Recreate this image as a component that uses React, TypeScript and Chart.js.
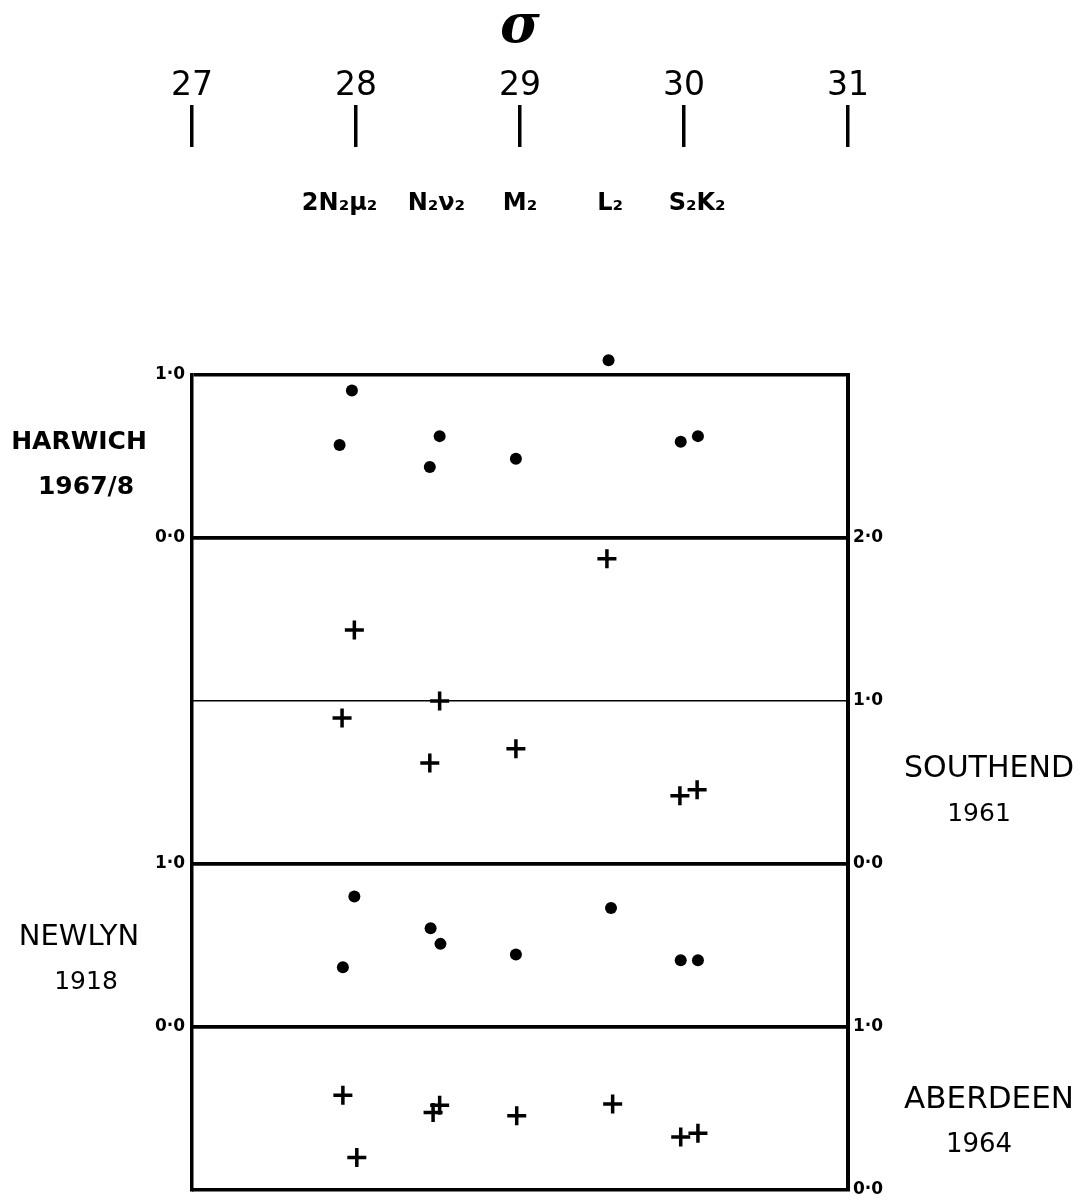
import React, { useEffect, useRef } from 'react';
import { Chart, registerables } from 'chart.js';

Chart.register(...registerables);

// ---- data ----
const sigmaTicks = [27, 28, 29, 30, 31];
const constituentLabels = ['2N₂μ₂', 'N₂ν₂', 'M₂', 'L₂', 'S₂K₂'];
const constituentSigma = [27.9, 28.49, 29.0, 29.55, 30.08];

const harwichSigma = [27.975, 27.9, 28.51, 28.45, 28.975, 29.54, 29.98, 30.085];
const harwichValues = [0.905, 0.57, 0.625, 0.436, 0.486, 1.09, 0.59, 0.625];

const southendSigma = [29.53, 27.99, 28.51, 27.915, 28.45, 28.975, 29.975, 30.08];
const southendValues = [1.872, 1.436, 1.0, 0.895, 0.62, 0.707, 0.418, 0.455];

const newlynSigma = [27.99, 27.92, 28.455, 28.515, 28.975, 29.555, 29.98, 30.085];
const newlynValues = [0.8, 0.366, 0.606, 0.51, 0.445, 0.73, 0.41, 0.41];

const aberdeenSigma = [27.92, 28.005, 28.47, 28.51, 28.98, 29.565, 29.98, 30.085];
const aberdeenValues = [0.582, 0.2, 0.476, 0.52, 0.456, 0.528, 0.325, 0.348];

// panels stacked on one combined vertical scale (bottom value of each panel)
const panelBase = { harwich: 4, southend: 2, newlyn: 1, aberdeen: 0 };
const panelTop = { harwich: 5, southend: 4, newlyn: 2, aberdeen: 1 };

const stations = [
  { name: 'HARWICH', year: '1967/8', side: 'left', at: 4.585, bold: true, size: 25, ysize: 25 },
  { name: 'SOUTHEND', year: '1961', side: 'right', at: 2.58, bold: false, size: 30, ysize: 25 },
  { name: 'NEWLYN', year: '1918', side: 'left', at: 1.55, bold: false, size: 29, ysize: 25 },
  { name: 'ABERDEEN', year: '1964', side: 'right', at: 0.55, bold: false, size: 31, ysize: 26 },
];

const fmt = (v: number) => v.toFixed(1).replace('.', '·');

const leftPanels = ['harwich', 'newlyn'] as const;
const rightPanels = ['southend', 'aberdeen'] as const;

function leftLabel(v: number): string {
  for (const p of leftPanels) {
    if (v >= panelBase[p] && v <= panelTop[p]) return fmt(v - panelBase[p]);
  }
  return '';
}
function rightLabel(v: number): string {
  for (const p of rightPanels) {
    if (v >= panelBase[p] && v <= panelTop[p]) return fmt(v - panelBase[p]);
  }
  return '';
}

const pts = (xs: number[], ys: number[], base: number) =>
  xs.map((x, i) => ({ x, y: ys[i] + base }));

// points lying outside the framed area (e.g. Harwich L2 > 1.0) are still drawn
const outsidePointsPlugin = {
  id: 'outsidePoints',
  afterDatasetsDraw(chart: any) {
    const { ctx, chartArea, width, height } = chart;
    const full = { left: 0, top: 0, right: width, bottom: height };
    chart.data.datasets.forEach((_d: any, i: number) => {
      const meta = chart.getDatasetMeta(i);
      meta.data.forEach((el: any) => {
        if (el.y < chartArea.top - 1 || el.y > chartArea.bottom + 1) el.draw(ctx, full);
      });
    });
  },
};

const stationPlugin = {
  id: 'stationLabels',
  afterDraw(chart: any) {
    const { ctx, chartArea } = chart;
    const y = chart.scales.yR;
    ctx.save();
    ctx.fillStyle = '#000';
    ctx.textAlign = 'center';
    ctx.textBaseline = 'middle';
    for (const s of stations) {
      const cx = s.side === 'left' ? chartArea.left - 113 : chartArea.right + 141;
      const py = y.getPixelForValue(s.at);
      ctx.font = `${s.bold ? 'bold ' : ''}${s.size}px "DejaVu Sans"`;
      ctx.fillText(s.name, cx, py);
      ctx.font = `${s.bold ? 'bold ' : ''}${s.ysize}px "DejaVu Sans"`;
      ctx.fillText(s.year, cx + (s.side === 'left' ? 7 : -10), py + 45);
    }
    ctx.restore();
  },
};

const noVerticalOverflow = (s: any) => {
  s.paddingTop = 0;
  s.paddingBottom = 0;
};

export default function App() {
  const ref = useRef<HTMLCanvasElement | null>(null);
  useEffect(() => {
    if (!ref.current) return;
    const dot = { pointStyle: 'circle', pointRadius: 6, backgroundColor: '#000', borderColor: '#000', borderWidth: 0 };
    const cross = { pointStyle: 'cross', pointRadius: 9.5, backgroundColor: '#000', borderColor: '#000', borderWidth: 3.5 };
    const chart = new Chart(ref.current, {
      type: 'scatter',
      data: {
        datasets: [
          { label: 'Harwich 1967/8', data: pts(harwichSigma, harwichValues, panelBase.harwich), ...dot, xAxisID: 'x', yAxisID: 'yR', clip: false } as any,
          { label: 'Southend 1961', data: pts(southendSigma, southendValues, panelBase.southend), ...cross, xAxisID: 'x', yAxisID: 'yR', clip: false } as any,
          { label: 'Newlyn 1918', data: pts(newlynSigma, newlynValues, panelBase.newlyn), ...dot, xAxisID: 'x', yAxisID: 'yR', clip: false } as any,
          { label: 'Aberdeen 1964', data: pts(aberdeenSigma, aberdeenValues, panelBase.aberdeen), ...cross, xAxisID: 'x', yAxisID: 'yR', clip: false } as any,
        ],
      },
      options: {
        animation: false,
        responsive: false,
        layout: { padding: { left: 0, right: 0, top: 0, bottom: 14 } },
        plugins: { legend: { display: false }, tooltip: { enabled: false } },
        scales: {
          x: {
            type: 'linear',
            position: 'top',
            min: 27,
            max: 31,
            weight: 2,
            afterBuildTicks: (s: any) => { s.ticks = sigmaTicks.map((v) => ({ value: v })); },
            afterFit: (s: any) => { s.height = 147; },
            grid: { display: true, drawOnChartArea: false, drawTicks: true, tickLength: 42, tickWidth: 3.5, tickColor: '#000', color: '#000', lineWidth: 3.5 },
            border: { display: false },
            ticks: {
              color: '#000',
              padding: 2,
              maxRotation: 0,
              autoSkip: false,
              font: { family: 'DejaVu Sans', size: 33, lineHeight: 1 },
              callback: (v: any) => String(v),
            },
            title: {
              display: true,
              text: 'σ',
              color: '#000',
              font: { family: 'DejaVu Serif', size: 54, style: 'italic', weight: 'bold', lineHeight: 1 },
              padding: { top: 1, bottom: 0 },
            },
          },
          xc: {
            type: 'linear',
            position: 'top',
            min: 27,
            max: 31,
            weight: 1,
            afterBuildTicks: (s: any) => { s.ticks = constituentSigma.map((v) => ({ value: v })); },
            afterFit: (s: any) => { s.height = 228; },
            grid: { display: false },
            border: { display: false },
            ticks: {
              color: '#000',
              padding: 151,
              maxRotation: 0,
              autoSkip: false,
              font: { family: 'DejaVu Sans', size: 24, weight: 'bold', lineHeight: 1 },
              callback: (_v: any, i: number) => constituentLabels[i],
            },
          },
          yL: {
            type: 'linear',
            position: 'left',
            min: 0,
            max: 5,
            afterBuildTicks: (s: any) => {
              s.ticks = [panelBase.newlyn, panelTop.newlyn, panelBase.harwich, panelTop.harwich].map((v) => ({ value: v }));
            },
            afterFit: (s: any) => { s.width = 192; noVerticalOverflow(s); },
            grid: { display: true, drawOnChartArea: true, drawTicks: false, color: '#000', lineWidth: 3.5 },
            border: { display: true, color: '#000', width: 3.5 },
            ticks: {
              color: '#000',
              padding: 7,
              autoSkip: false,
              font: { family: 'DejaVu Sans', size: 17, weight: 'bold' },
              callback: (v: any) => leftLabel(Number(v)),
            },
          },
          yR: {
            type: 'linear',
            position: 'right',
            min: 0,
            max: 5,
            afterBuildTicks: (s: any) => {
              s.ticks = [panelBase.aberdeen, panelTop.aberdeen, panelBase.southend, 3, panelTop.southend].map((v) => ({ value: v }));
            },
            afterFit: (s: any) => { s.width = 244; noVerticalOverflow(s); },
            grid: {
              display: true,
              drawOnChartArea: true,
              drawTicks: false,
              color: '#000',
              lineWidth: (c: any) => (c.tick && c.tick.value === 3 ? 1.5 : 3.5),
            },
            border: { display: true, color: '#000', width: 4 },
            ticks: {
              color: '#000',
              padding: 5,
              autoSkip: false,
              font: { family: 'DejaVu Sans', size: 17, weight: 'bold' },
              callback: (v: any) => rightLabel(Number(v)),
            },
          },
        },
      } as any,
      plugins: [outsidePointsPlugin, stationPlugin],
    });
    return () => chart.destroy();
  }, []);
  return (
    <div style={{ position: 'absolute', left: 0, top: 0, width: 1092, height: 1204, background: '#fff' }}>
      <canvas ref={ref} width={1092} height={1204} style={{ display: 'block' }} />
    </div>
  );
}
